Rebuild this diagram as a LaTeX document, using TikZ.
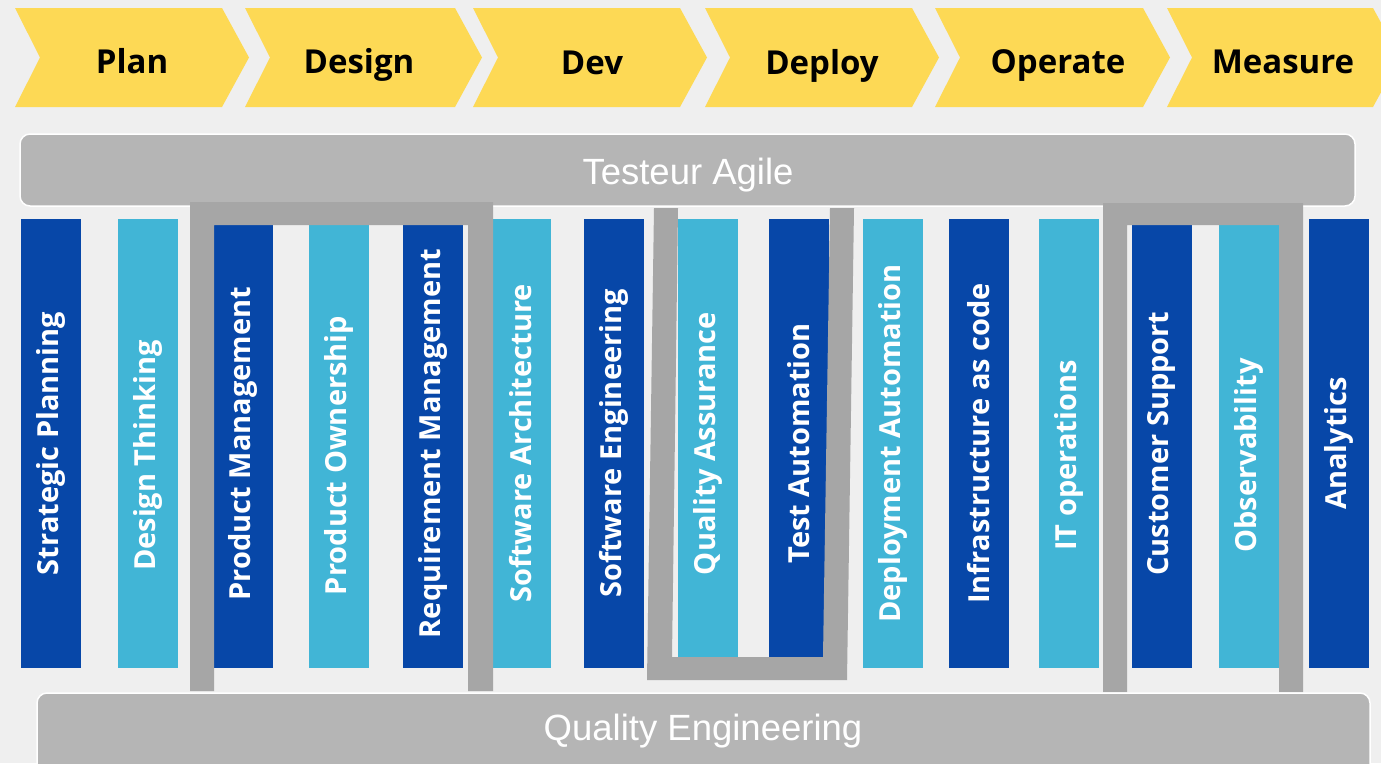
\documentclass[tikz,border=0pt]{standalone}
\usepackage{fontspec}
\newfontfamily\osans{Open Sans}
\newfontfamily\lsans{Liberation Sans}
\definecolor{bgc}{HTML}{EFEFEF}
\definecolor{yel}{HTML}{FDD955}
\definecolor{darkb}{HTML}{0747A8}
\definecolor{lightb}{HTML}{41B5D6}
\definecolor{barg}{HTML}{B5B5B5}
\definecolor{boxg}{HTML}{A6A6A6}
\begin{document}
\begin{tikzpicture}[x=1pt,y=-1pt,
  phase/.style={font=\osans\bfseries\fontsize{33}{39}\selectfont, text=black, anchor=base},
  band/.style={fill=barg, draw=white, line width=1.5pt, rounded corners=10pt},
  bandtext/.style={font=\lsans\fontsize{36.5}{42}\selectfont, text=white, anchor=base},
  col/.style={minimum width=60pt, minimum height=449pt, inner sep=0pt},
  dcol/.style={col, fill=darkb},
  lcol/.style={col, fill=lightb},
  coltext/.style={rotate=90, text=white, inner sep=0pt,
    font=\osans\bfseries\fontsize{29}{34}\selectfont},
  frame/.style={fill=boxg}
]
\useasboundingbox (0,0) rectangle (1381,763);
\fill[bgc] (0,0) rectangle (1381,763);
% chevrons
\foreach \L/\R in {15/222,245/455,473/680,705/912,935/1143,1167/1373}{
  \fill[yel] (\L,8) -- (\R,8) -- (\R+27,57.5) -- (\R,107) -- (\L,107) -- (\L+25,57.5) -- cycle;
}
\node[phase] (plan) at (132,73) {Plan};
\node[phase] (design) at (359,73) {Design};
\node[phase] (dev) at (592,74) {Dev};
\node[phase] (deploy) at (822,74) {Deploy};
\node[phase] (operate) at (1058,73) {Operate};
\node[phase] (measure) at (1283,73) {Measure};
% top band
\draw[band] (20,134) rectangle (1355,206);
\node[bandtext] (agile) at (688,184) {Testeur Agile};
% columns
\node[dcol] (c1) at (51,443.5) {};
\node[lcol] (c2) at (148,443.5) {};
\node[dcol] (c3) at (243,443.5) {};
\node[lcol] (c4) at (339,443.5) {};
\node[dcol] (c5) at (433,443.5) {};
\node[lcol] (c6) at (521,443.5) {};
\node[dcol] (c7) at (614,443.5) {};
\node[lcol] (c8) at (708,443.5) {};
\node[dcol] (c9) at (799,443.5) {};
\node[lcol] (c10) at (893,443.5) {};
\node[dcol] (c11) at (979,443.5) {};
\node[lcol] (c12) at (1069,443.5) {};
\node[dcol] (c13) at (1161.5,443.5) {};
\node[lcol] (c14) at (1248.5,443.5) {};
\node[dcol] (c15) at (1338.5,443.5) {};
\node[coltext] (t1) at (c1.center) {Strategic Planning};
\node[coltext] (t2) at ([yshift=-12pt]c2.center) {Design Thinking};
\node[coltext] (t3) at (c3.center) {Product Management};
\node[coltext] (t4) at ([yshift=-12pt]c4.center) {Product Ownership};
\node[coltext] (t5) at (c5.center) {Requirement Management};
\node[coltext] (t6) at (c6.center) {Software Architecture};
\node[coltext] (t7) at (c7.center) {Software Engineering};
\node[coltext] (t8) at (c8.center) {Quality Assurance};
\node[coltext] (t9) at (c9.center) {Test Automation};
\node[coltext] (t10) at (c10.center) {Deployment Automation};
\node[coltext] (t11) at (c11.center) {Infrastructure as code};
\node[coltext] (t12) at ([yshift=-12pt]c12.center) {IT operations};
\node[coltext] (t13) at (c13.center) {Customer Support};
\node[coltext] (t14) at ([yshift=-12pt]c14.center) {Observability};
\node[coltext] (t15) at (c15.center) {Analytics};
% frames
\fill[frame] (190,202) -- (493,202) -- (493,691) -- (468,691) -- (468,225) -- (214,225) -- (214,691) -- (190,691) -- cycle;
\fill[frame] (654,208) -- (678,208) -- (672,657) -- (823,657) -- (830,208) -- (854,208) -- (847,680) -- (647,680) -- cycle;
\fill[frame] (1103,203) -- (1303,203) -- (1303,692) -- (1279,692) -- (1279,225) -- (1127,225) -- (1127,692) -- (1103,692) -- cycle;
% bottom band
\draw[band] (37,693) rectangle (1370,775);
\node[bandtext] (qe) at (703,740) {Quality Engineering};
\end{tikzpicture}
\end{document}
